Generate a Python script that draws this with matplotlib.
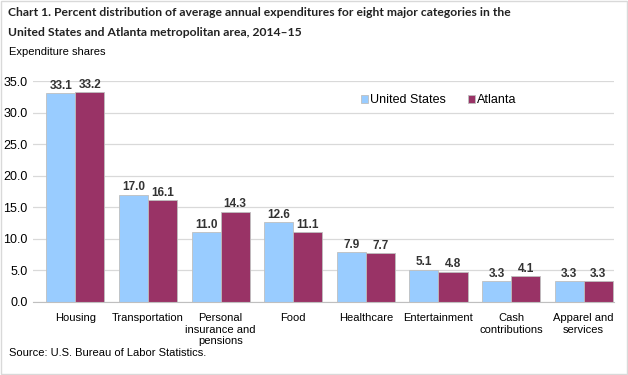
import matplotlib.pyplot as plt
import numpy as np
from matplotlib.patches import Rectangle

categories = ['Housing', 'Transportation', 'Personal\ninsurance and\npensions', 'Food',
              'Healthcare', 'Entertainment', 'Cash\ncontributions', 'Apparel and\nservices']
us_vals = [33.1, 17.0, 11.0, 12.6, 7.9, 5.1, 3.3, 3.3]
atl_vals = [33.2, 16.1, 14.3, 11.1, 7.7, 4.8, 4.1, 3.3]
yticks = np.arange(0, 35.1, 5)

blue = '#99CCFF'
maroon = '#993366'

plt.rcParams['font.family'] = ['Liberation Sans', 'DejaVu Sans']

fig = plt.figure(figsize=(6.28, 3.75), dpi=100)
ax = fig.add_axes([0.053, 0.195, 0.925, 0.589])

x = np.arange(len(categories))
w = 0.4
b1 = ax.bar(x - w / 2, us_vals, w, color=blue, edgecolor='#bfbfbf', linewidth=0.6, label='United States')
b2 = ax.bar(x + w / 2, atl_vals, w, color=maroon, edgecolor='#bfbfbf', linewidth=0.6, label='Atlanta')

for bars, vals in ((b1, us_vals), (b2, atl_vals)):
    for r, v in zip(bars, vals):
        ax.text(r.get_x() + r.get_width() / 2, v + 0.2, f'{v:.1f}', ha='center', va='bottom',
                fontsize=8.5, fontweight='bold', color='#333333')

ax.set_xlim(-0.58, len(categories) - 0.58)
ax.set_ylim(0, 35)
ax.set_yticks(yticks)
ax.set_yticklabels([f'{t:.1f}' for t in yticks], fontsize=9)
ax.set_xticks(x)
ax.set_xticklabels(categories, fontsize=8)
ax.tick_params(length=0, pad=8)
ax.tick_params(axis='y', pad=4)
ax.yaxis.grid(True, color='#d9d9d9', linewidth=0.9)
ax.set_axisbelow(True)
for s in ['top', 'right', 'left']:
    ax.spines[s].set_visible(False)
ax.spines['bottom'].set_color('#bfbfbf')

ax.legend(loc='upper left', bbox_to_anchor=(0.545, 0.99), ncol=2, frameon=False, fontsize=9,
          handlelength=0.55, handleheight=0.55, columnspacing=1.8, handletextpad=0.15)

fig.text(0.013, 0.98, 'Chart 1. Percent distribution of average annual expenditures for eight major categories in the\n'
         'United States and Atlanta metropolitan area, 2014\u201315',
         family=['Lato', 'DejaVu Sans'], fontsize=8.7, fontweight='bold', va='top', linespacing=1.95,
         color='#222222')
fig.text(0.014, 0.862, 'Expenditure shares', fontsize=8, va='center')
fig.text(0.015, 0.06, 'Source: U.S. Bureau of Labor Statistics.', fontsize=8, va='center')

fig.patches.append(Rectangle((0.001, 0.002), 0.997, 0.995, transform=fig.transFigure,
                             fill=False, edgecolor='#d9d9d9', linewidth=1))

fig.savefig('out.png', dpi=100)
